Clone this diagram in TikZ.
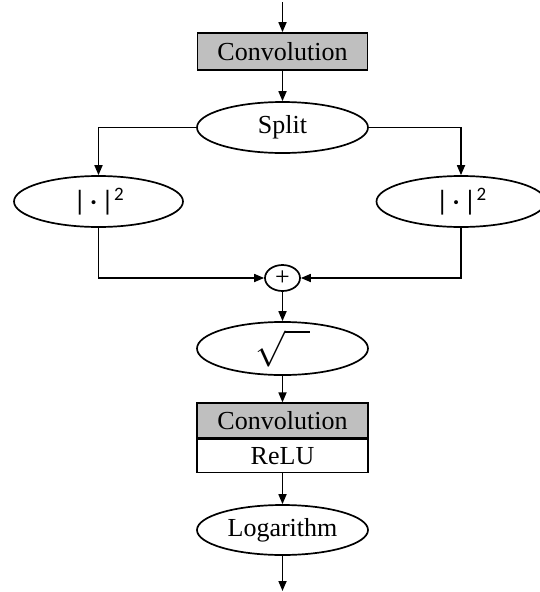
\documentclass[tikz,border=0pt]{standalone}
\usepackage{fontspec}
\usepackage{graphicx}
\setmainfont{Liberation Serif}
\newfontfamily\carl{Carlito}
\usetikzlibrary{shapes.geometric,arrows.meta,calc}
\newcommand{\absq}{{\carl |\kern4pt·\kern4pt|\raisebox{10pt}{\fontsize{19}{20}\selectfont 2}}}
\begin{document}
\begin{tikzpicture}[x=1pt,y=-1pt,
  line width=1.7pt,
  conn/.style={-{Triangle[length=10pt,width=8pt]}},
  oval/.style={draw,ellipse,inner sep=0pt,font=\fontsize{26}{30}\selectfont},
  boxg/.style={draw,fill=black!25,rectangle,inner sep=0pt,font=\fontsize{26}{30}\selectfont},
  boxw/.style={draw,fill=white,rectangle,inner sep=0pt,font=\fontsize{26}{30}\selectfont}]
\useasboundingbox (0,0) rectangle (539,592);
\coordinate (top) at (282.5,2);
\node[boxg,minimum width=170pt,minimum height=37pt] (conv1) at (282.5,51.5) {Convolution};
\node[oval,minimum width=171pt,minimum height=51pt] (split) at (282.5,127.5) {Split};
\node[oval,minimum width=169pt,minimum height=51pt,font=\carl\fontsize{28}{30}\selectfont] (lsq) at (98.5,201.5) {\absq};
\node[oval,minimum width=169pt,minimum height=51pt,font=\carl\fontsize{28}{30}\selectfont] (rsq) at (461,201.5) {\absq};
\node[oval,minimum width=35pt,minimum height=26pt,font=\fontsize{26}{28}\selectfont] (plus) at (282.5,278) {+};
\node[oval,minimum width=171pt,minimum height=53pt] (sqrt) at (282.5,348.5) {\scalebox{1.45}{$\sqrt{\hphantom{\rule{17pt}{0pt}}}$}};
\node[boxg,minimum width=171pt,minimum height=34.5pt] (conv2) at (282.5,420.5) {Convolution};
\node[boxw,minimum width=171pt,minimum height=33pt,anchor=north] (relu) at (conv2.south) {ReLU};
\node[oval,minimum width=171pt,minimum height=50pt] (log) at (282.5,530) {Logarithm};
\coordinate (bot) at (282.5,591);
\draw[conn] (top) -- (conv1);
\draw[conn] (conv1) -- (split);
\draw[conn] (split.west) -| (lsq.north);
\draw[conn] (split.east) -| (rsq.north);
\draw[conn] (lsq.south) |- (plus.west);
\draw[conn] (rsq.south) |- (plus.east);
\draw[conn] (plus) -- (sqrt);
\draw[conn] (sqrt) -- (conv2);
\draw[conn] (relu) -- (log);
\draw[conn] (log) -- (bot);
\end{tikzpicture}
\end{document}
